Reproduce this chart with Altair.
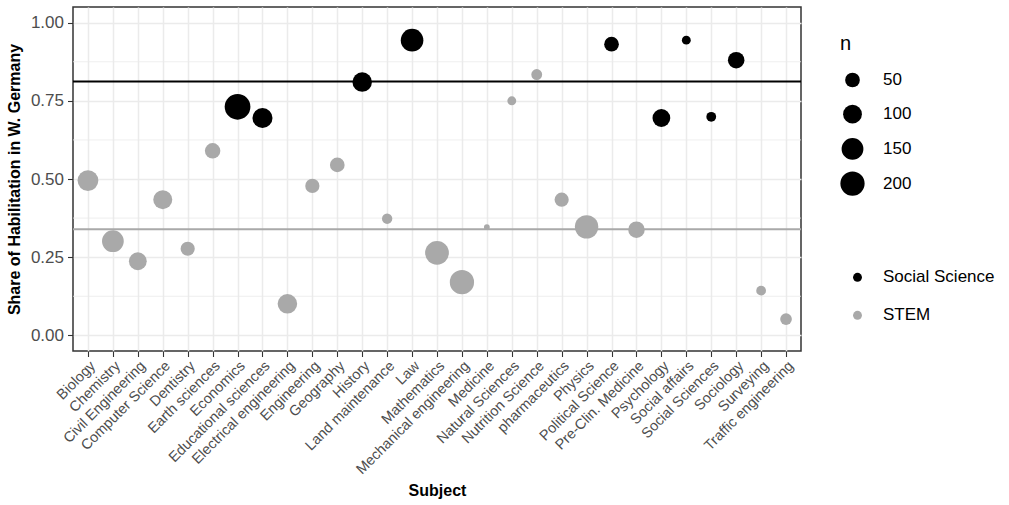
import altair as alt
import pandas as pd

subjects = ["Biology", "Chemistry", "Civil Engineering", "Computer Science", "Dentistry",
            "Earth sciences", "Economics", "Educational sciences", "Electrical engineering",
            "Engineering", "Geography", "History", "Land maintenance", "Law", "Mathematics",
            "Mechanical engineering", "Medicine", "Natural Sciences", "Nutrition Science",
            "pharmaceutics", "Physics", "Political Science", "Pre-Clin. Medicine", "Psychology",
            "Social affairs", "Social Sciences", "Sociology", "Surveying", "Traffic engineering"]
groups = ["STEM", "STEM", "STEM", "STEM", "STEM",
          "STEM", "Social Science", "Social Science", "STEM",
          "STEM", "STEM", "Social Science", "STEM", "Social Science", "STEM",
          "STEM", "STEM", "STEM", "STEM",
          "STEM", "STEM", "Social Science", "STEM", "Social Science",
          "Social Science", "Social Science", "Social Science", "STEM", "STEM"]
shares = [0.495, 0.301, 0.237, 0.434, 0.277,
          0.590, 0.731, 0.695, 0.101,
          0.478, 0.545, 0.810, 0.373, 0.944, 0.264,
          0.170, 0.346, 0.750, 0.834,
          0.434, 0.347, 0.931, 0.338, 0.695,
          0.944, 0.699, 0.880, 0.143, 0.052]
ns = [131, 149, 86, 103, 45,
      58, 234, 119, 111,
      45, 50, 111, 17, 165, 189,
      200, 1, 10, 20,
      45, 182, 50, 70, 86,
      10, 14, 70, 14, 25]

group_names = ["Social Science", "STEM"]
group_colors = ["#000000", "#A9A9A9"]
group_means = [0.812, 0.339]
major_breaks = [0, 0.25, 0.5, 0.75, 1.0]
minor_breaks = [0.125, 0.375, 0.625, 0.875]
size_breaks = [50, 100, 150, 200]

df = pd.DataFrame({"Subject": subjects, "Group": groups, "Share": shares, "n": ns})
means_df = pd.DataFrame({"Group": group_names, "Share": group_means})
minor_df = pd.DataFrame({"Share": minor_breaks})

FONT = "Liberation Sans"
yscale = alt.Scale(domain=[-0.05, 1.05], nice=False, zero=False)

minor = alt.Chart(minor_df).mark_rule(color="#EBEBEB", strokeWidth=0.8).encode(
    y=alt.Y("Share:Q", scale=yscale)
)

rule_ss = alt.Chart(means_df).transform_filter(
    alt.datum.Group == "Social Science"
).mark_rule(color="#000000", strokeWidth=2).encode(y=alt.Y("Share:Q", scale=yscale))

rule_stem = alt.Chart(means_df).transform_filter(
    alt.datum.Group == "STEM"
).mark_rule(color="#A9A9A9", strokeWidth=2).encode(y=alt.Y("Share:Q", scale=yscale))

points = alt.Chart(df).mark_circle(opacity=1).encode(
    x=alt.X("Subject:N", sort=subjects,
            scale=alt.Scale(type="point", padding=0.6),
            axis=alt.Axis(title="Subject", labelAngle=-45, labelAlign="right",
                          labelBaseline="top", labelOverlap=False, labelPadding=2,
                          labelFontSize=14.5, labelColor="#4D4D4D", labelFont=FONT,
                          tickColor="#333333", tickSize=5.5, tickWidth=1.1,
                          grid=True, gridColor="#EBEBEB", gridWidth=1.5, domain=False,
                          titleFont=FONT, titleFontSize=16, titleFontWeight="bold",
                          titleColor="#000000", titleX=364, titleY=144,
                          titleAlign="center", titleBaseline="alphabetic")),
    y=alt.Y("Share:Q", scale=yscale,
            axis=alt.Axis(title="Share of Habilitation in W. Germany", values=major_breaks,
                          format=".2f", labelFontSize=17, labelColor="#4D4D4D",
                          labelFont=FONT, labelPadding=4,
                          tickColor="#333333", tickSize=5.5, tickWidth=1.1,
                          grid=True, gridColor="#EBEBEB", gridWidth=1.5, domain=False,
                          titleFont=FONT, titleFontSize=16, titleFontWeight="bold",
                          titleColor="#000000", titleAngle=270, titleX=-54, titleY=172,
                          titleAlign="center", titleBaseline="alphabetic")),
    size=alt.Size("n:Q",
                  scale=alt.Scale(type="pow", exponent=0.78, domain=[0, 250],
                                  range=[24.6, 696]),
                  legend=alt.Legend(title="n", orient="none", legendX=767, legendY=26.5,
                                    values=size_breaks, symbolType="circle",
                                    symbolFillColor="#000000", symbolStrokeWidth=0,
                                    labelFontSize=17, labelFont=FONT, labelColor="#000000",
                                    titleFontSize=20, titleFont=FONT, titleFontWeight="normal",
                                    titleColor="#000000", titlePadding=18, rowPadding=8.2,
                                    gridAlign="all", labelOffset=18, padding=0)),
    color=alt.Color("Group:N",
                    scale=alt.Scale(domain=group_names, range=group_colors),
                    legend=alt.Legend(title=None, orient="none", legendX=776, legendY=261.8,
                                      symbolType="circle", symbolSize=80, symbolStrokeWidth=0,
                                      labelFontSize=17, labelFont=FONT, labelColor="#000000",
                                      rowPadding=20, labelOffset=17, padding=0)),
)

chart = alt.layer(minor, rule_ss, rule_stem, points).properties(
    width=728, height=344,
    autosize=alt.AutoSizeParams(type="none"),
    padding={"left": 73, "top": 7, "right": 208, "bottom": 154},
    background="white",
).configure_view(stroke="#333333", strokeWidth=1.5)

chart.save("out.html", embed_options={"renderer": "svg", "actions": False})
